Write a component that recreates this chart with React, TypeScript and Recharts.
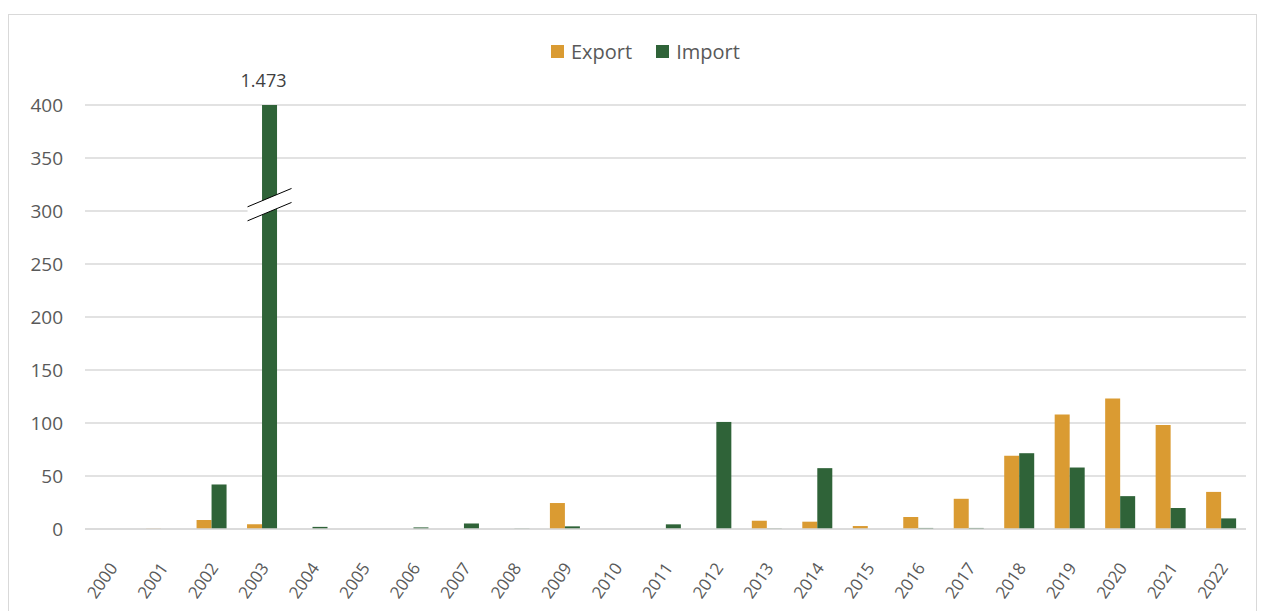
import { Bar, BarChart, CartesianGrid, LabelList, XAxis, YAxis } from "recharts";

const years = [
  "2000", "2001", "2002", "2003", "2004", "2005", "2006", "2007", "2008", "2009", "2010", "2011",
  "2012", "2013", "2014", "2015", "2016", "2017", "2018", "2019", "2020", "2021", "2022",
];
const exportValues = [
  0, 0.3, 8.5, 4.5, 0, 0, 0, 0, 0, 24.5, 0, 0, 0, 7.8, 6.9, 2.8, 11.3, 28.5, 69, 108, 123, 98, 35,
];
const importValues = [
  0, 0, 42, 1473, 2, 0, 1.5, 5.2, 0.3, 2.5, 0, 4.4, 101, 0.4, 57.4, 0, 1, 1, 71.5, 58, 31, 19.8, 10,
];
const yTicks = [0, 50, 100, 150, 200, 250, 300, 350, 400];
const axisMax = 400;

const EXPORT_COLOR = "#DA9B32";
const IMPORT_COLOR = "#2F6338";
const FONT = "'Open Sans', 'Noto Sans', sans-serif";

const data = years.map((year, i) => ({
  year,
  exportValue: exportValues[i],
  importReal: importValues[i],
  // values above the axis are cut at the top and marked with a break
  importShown: Math.min(importValues[i], axisMax),
}));

function ImportBar(props: any) {
  const { x, y, width, height, fill, payload } = props;
  if (!height || height <= 0) return null;
  const rect = <rect x={x} y={y} width={width} height={height} fill={fill} />;
  if (payload.importReal <= axisMax) return rect;
  const cx = x + width / 2;
  const cy = y + height * 0.235;
  const dx = 22;
  const dy = 9.2;
  const gap = 7;
  return (
    <g>
      {rect}
      <polygon
        points={`${cx - dx},${cy - gap + dy} ${cx + dx},${cy - gap - dy} ${cx + dx},${cy + gap - dy} ${cx - dx},${cy + gap + dy}`}
        fill="#fff"
      />
      <line x1={cx - dx} y1={cy - gap + dy} x2={cx + dx} y2={cy - gap - dy} stroke="#000" strokeWidth={1} />
      <line x1={cx - dx} y1={cy + gap + dy} x2={cx + dx} y2={cy + gap - dy} stroke="#000" strokeWidth={1} />
    </g>
  );
}

function BreakLabel(props: any) {
  const { x, y, width, value } = props;
  if (value <= axisMax) return null;
  return (
    <text
      x={x + width / 2 - 6}
      y={y - 18}
      textAnchor="middle"
      fontFamily={FONT}
      fontSize={18}
      fill="#404040"
    >
      {value.toLocaleString("de-DE")}
    </text>
  );
}

function YearTick(props: any) {
  const { x, y, payload } = props;
  const px = x + 8;
  const py = y + 31;
  return (
    <text
      x={px}
      y={py}
      textAnchor="end"
      transform={`rotate(-55, ${px}, ${py})`}
      fontFamily={FONT}
      fontSize={17}
      fill="#595959"
    >
      {payload.value}
    </text>
  );
}

function LegendRow() {
  const item = (label: string, color: string) => (
    <div style={{ display: "flex", alignItems: "center", marginRight: 24 }}>
      <div style={{ width: 13, height: 13, background: color, marginRight: 7 }} />
      <span>{label}</span>
    </div>
  );
  return (
    <div
      style={{
        position: "absolute",
        left: 551,
        top: 38,
        display: "flex",
        fontFamily: FONT,
        fontSize: 20,
        color: "#595959",
      }}
    >
      {item("Export", EXPORT_COLOR)}
      {item("Import", IMPORT_COLOR)}
    </div>
  );
}

export default function App() {
  return (
    <div style={{ position: "absolute", left: 0, top: 0, width: 1265, height: 611, background: "#fff" }}>
      <div
        style={{
          position: "absolute",
          left: 8,
          top: 14,
          width: 1249,
          height: 620,
          border: "1px solid #d9d9d9",
          boxSizing: "border-box",
        }}
      />
      <div style={{ position: "absolute", left: 0, top: 0 }}>
        <BarChart
          width={1265}
          height={611}
          data={data}
          margin={{ top: 105, right: 19, bottom: 22, left: 0 }}
          barCategoryGap="21%"
          barGap={0}
        >
          <CartesianGrid vertical={false} stroke="#d9d9d9" strokeWidth={1.3} />
          <XAxis
            dataKey="year"
            stroke="#d9d9d9"
            strokeWidth={1.3}
            tickLine={false}
            interval={0}
            height={60}
            tick={<YearTick />}
          />
          <YAxis
            width={85}
            domain={[0, axisMax]}
            ticks={yTicks}
            axisLine={false}
            tickLine={false}
            tickMargin={16}
            tick={{ fontFamily: FONT, fontSize: 19, fill: "#595959" }}
          />
          <Bar dataKey="exportValue" fill={EXPORT_COLOR} isAnimationActive={false} />
          <Bar dataKey="importShown" fill={IMPORT_COLOR} isAnimationActive={false} shape={<ImportBar />}>
            <LabelList dataKey="importReal" content={<BreakLabel />} />
          </Bar>
        </BarChart>
      </div>
      <LegendRow />
    </div>
  );
}
